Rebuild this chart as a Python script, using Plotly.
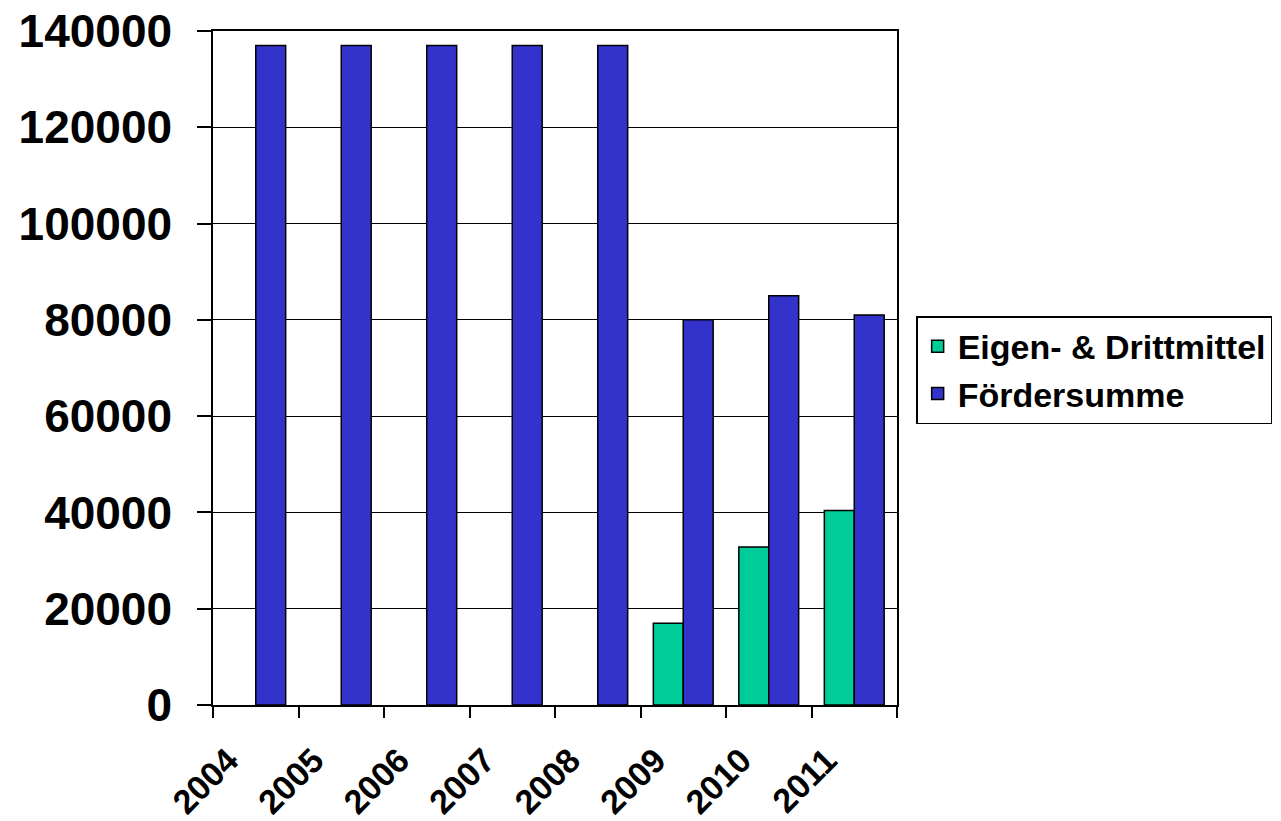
import plotly.graph_objects as go

# Jahre und Beträge
years = ["2004", "2005", "2006", "2007", "2008", "2009", "2010", "2011"]
eigen_dritt = [None, None, None, None, None, 17000, 32800, 40400]
foerdersumme = [137000, 137000, 137000, 137000, 137000, 80000, 85000, 81000]

FONT = "Liberation Sans, Arial, sans-serif"
pos = list(range(len(years)))

fig = go.Figure()
fig.add_trace(go.Bar(
    x=pos, y=eigen_dritt, name="Eigen- & Drittmittel",
    marker=dict(color="#00CC99", line=dict(color="black", width=1.5)),
))
fig.add_trace(go.Bar(
    x=pos, y=foerdersumme, name="Fördersumme",
    marker=dict(color="#3333CC", line=dict(color="black", width=1.5)),
))

fig.update_layout(
    width=1281, height=821,
    margin=dict(l=213, r=384, t=31, b=116, autoexpand=False),
    paper_bgcolor="white", plot_bgcolor="white",
    barmode="group", bargap=0.3, bargroupgap=0,
    font=dict(family=FONT, color="black"),
    showlegend=True,
    legend=dict(
        x=1.028, y=0.577, xanchor="left", yanchor="top",
        bordercolor="black", borderwidth=1.5, bgcolor="white",
        font=dict(family=FONT, size=34, color="black", weight="bold"),
    ),
)

fig.update_xaxes(
    range=[-0.5, len(years) - 0.5],
    automargin=False,
    tickmode="array",
    tickvals=[p - 0.32 for p in pos],
    ticktext=years,
    tickangle=-45,
    ticks="",
    ticklabelstandoff=20,
    tickfont=dict(family=FONT, size=34, color="black", weight="bold"),
    showline=True, linecolor="black", linewidth=1.5, mirror=True,
    showgrid=False, zeroline=False,
    minor=dict(ticks="outside", tick0=-0.5, dtick=1, ticklen=11,
               tickcolor="black", tickwidth=1.5, showgrid=False),
)

fig.update_yaxes(
    range=[0, 140000], dtick=20000, tickformat="d",
    automargin=False,
    ticks="outside", ticklen=14, tickcolor="black", tickwidth=1.5,
    ticklabelstandoff=16,
    tickfont=dict(family=FONT, size=46, color="black", weight="bold"),
    showline=True, linecolor="black", linewidth=1.5, mirror=True,
    showgrid=True, gridcolor="black", gridwidth=1,
    zeroline=False,
)

fig.write_html("out.html")
